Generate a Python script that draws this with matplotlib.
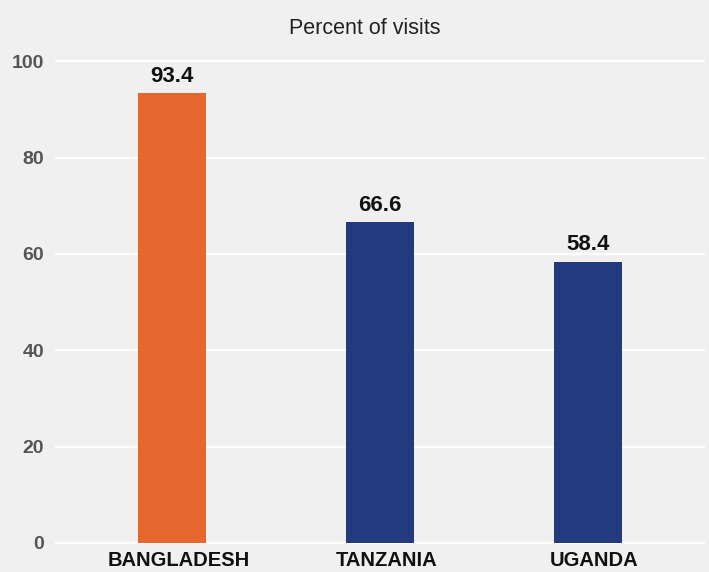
import matplotlib.pyplot as plt
from matplotlib.transforms import ScaledTranslation

plt.rcParams['font.family'] = ['Liberation Sans', 'DejaVu Sans']

countries = ['BANGLADESH', 'TANZANIA', 'UGANDA']
percent = [93.4, 66.6, 58.4]
bar_colours = ['#e5672f', '#233a7f', '#233a7f']
yticks = [0, 20, 40, 60, 80, 100]

BG = '#f0f0f0'

fig = plt.figure(figsize=(7.09, 5.72), dpi=100, facecolor=BG)
ax = fig.add_axes([55 / 709, 24 / 572, 650 / 709, 508 / 572])
ax.set_facecolor(BG)

x = range(len(countries))
bars = ax.bar(x, percent, width=0.33, color=bar_colours, zorder=3)

for rect, v in zip(bars, percent):
    ax.text(rect.get_x() + rect.get_width() / 2, v + 1.3, f"{v:.1f}",
            ha='center', va='bottom', fontsize=16, fontweight='bold',
            color='#111111')

ax.set_xlim(-0.5625, 2.5625)
ax.set_ylim(-1.04, 104.4)
ax.set_yticks(yticks)
ax.set_yticklabels([str(t) for t in yticks], fontsize=14, fontweight='bold',
                   color='#555555')
ax.set_xticks(list(x))
ax.set_xticklabels(countries, fontsize=14.5, fontweight='bold', color='#111111')
ax.tick_params(axis='both', length=0)
ax.tick_params(axis='y', pad=8)
ax.tick_params(axis='x', pad=2)

# category labels sit slightly right of the bar centres in the original
shift = ScaledTranslation(6.5 / 100, 0, fig.dpi_scale_trans)
for lbl in ax.get_xticklabels():
    lbl.set_transform(lbl.get_transform() + shift)

ax.grid(axis='y', color='white', linewidth=1.6, zorder=0)
for s in ax.spines.values():
    s.set_visible(False)

fig.text(365 / 709, 1 - 28 / 572, "Percent of visits", ha='center',
         va='center', fontsize=15.5, color='#222222')

fig.savefig('out.png', dpi=100, facecolor=BG)
